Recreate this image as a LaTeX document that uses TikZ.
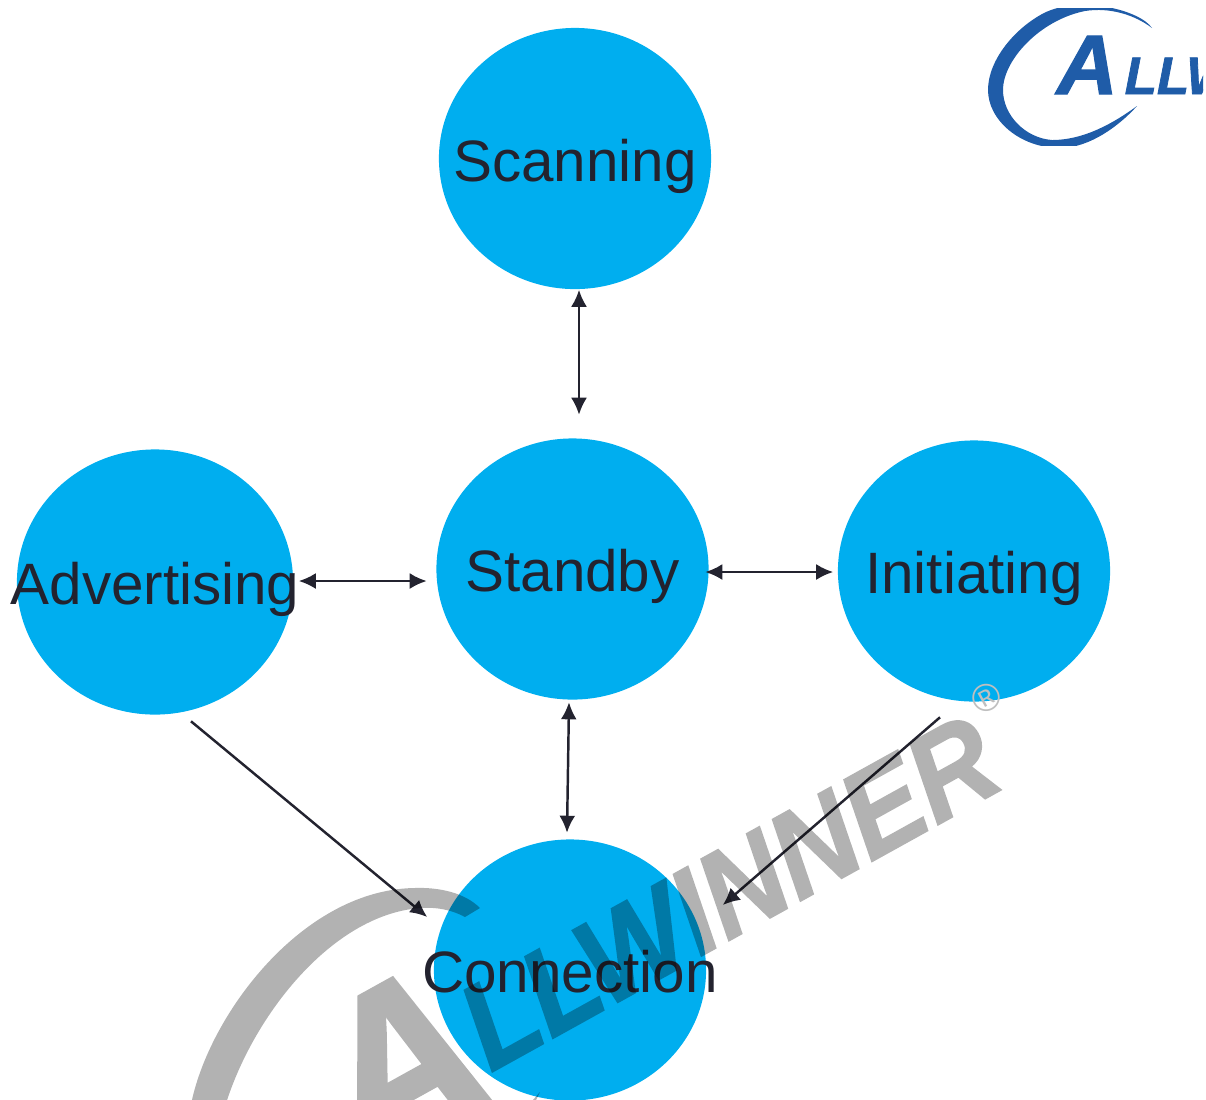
\documentclass[tikz,border=0pt]{standalone}
\usepackage{fontspec}
\setmainfont{Liberation Sans}
\newfontfamily\markfont[BoldItalicFeatures={FakeBold=1.5}]{Liberation Sans}
\usetikzlibrary{shapes.geometric,arrows.meta}
\newcommand{\statetext}[1]{\raisebox{-0.227cm}[0pt][0pt]{\makebox[0pt]{#1}}}

\begin{document}
\begin{tikzpicture}[x=0.01cm,y=-0.01cm,
    every node/.style={inner sep=0pt},
    state/.style={ellipse,fill=stateblue,text=labelgrey,font=\fontsize{16.6pt}{20pt}\selectfont,minimum width=2.72cm,minimum height=2.61cm},
    link/.style={draw=labelgrey,line width=0.7pt,-{Latex[length=0.17cm,width=0.16cm]}},
    bothways/.style={link,{Latex[length=0.17cm,width=0.16cm]}-{Latex[length=0.17cm,width=0.16cm]}},
    wmark/.style={text=black,rotate=29,anchor=base west}]
    \definecolor{stateblue}{HTML}{00AEEF}
    \definecolor{labelgrey}{HTML}{23232F}
    \definecolor{logoblue}{HTML}{1F5CA8}
    \path[use as bounding box] (0,0) rectangle (1206,1099);

    \node[state] (scanning) at (575,158.5) {\statetext{Scanning}};
    \node[state] (standby) at (572.5,569) {\statetext{Standby}};
    \node[state] (initiating) at (974,571) {\statetext{Initiating}};
    \node[state,minimum width=2.76cm,minimum height=2.65cm] (advertising) at (155,582) {\statetext{Advertising}};
    \node[state] (connection) at (570,970) {\statetext{Connection}};

    \draw[bothways] ([shift={(4,0)}]scanning.south) -- ([shift={(6.5,-23)}]standby.north);
    \draw[bothways] ([shift={(5,-1)}]advertising.east) -- ([shift={(-9,12)}]standby.west);
    \draw[bothways] ([shift={(-4,3)}]standby.east) -- ([shift={(-4,1)}]initiating.west);
    \draw[bothways] ([shift={(-3.5,2)}]standby.south) -- ([shift={(-3,-6)}]connection.north);
    \draw[link] ([shift={(36,6)}]advertising.south) -- ([shift={(-6,-53)}]connection.west);
    \draw[link] ([shift={(-34,15)}]initiating.south) -- ([shift={(16,-65)}]connection.east);

    \begin{scope}
        \clip (960,8) rectangle (1203,145);
        \fill[logoblue] (1152,28) .. controls (1140,10) and (1080,-5) .. (1044,13)
            .. controls (1015,28) and (988,60) .. (988,90)
            .. controls (988,120) and (1020,148) .. (1060,148)
            .. controls (1090,148) and (1120,125) .. (1137,106)
            .. controls (1115,122) and (1085,140) .. (1052,140)
            .. controls (1025,138) and (1003,115) .. (1003,90)
            .. controls (1003,60) and (1040,20) .. (1085,11)
            .. controls (1110,7) and (1135,15) .. (1152,28) -- cycle;
        \node[font=\markfont\bfseries\itshape\fontsize{24pt}{24pt}\selectfont,text=logoblue,anchor=base west] (logoa) at (1056,94) {A};
        \node[font=\markfont\bfseries\itshape\fontsize{15pt}{15pt}\selectfont,text=logoblue,anchor=base west] (logorest) at (1124,94) {LLW};
    \end{scope}

    \begin{scope}[opacity=0.3,transparency group]
        \fill[black] (190,1110) .. controls (205,1020) and (300,890) .. (414,888)
            .. controls (440,887) and (465,893) .. (480,908) -- (465,917)
            .. controls (450,909) and (435,907) .. (420,908)
            .. controls (330,915) and (250,1020) .. (224,1110) -- cycle;
        \fill[black] (540,1092) -- (536,1100) -- (533,1100) -- cycle;
        \node[wmark,font=\markfont\bfseries\itshape\fontsize{64pt}{64pt}\selectfont] (bigletter) at (362,1172) {A};
        \node[wmark,font=\markfont\bfseries\itshape\fontsize{35pt}{35pt}\selectfont] (brand) at (490,1073) {\scalebox{0.92}[1]{LLWINNER}};
    \end{scope}
    \node[font=\fontsize{11pt}{11pt}\selectfont,text=black!25,rotate=29] (registered) at (986,698) {®};
\end{tikzpicture}
\end{document}
